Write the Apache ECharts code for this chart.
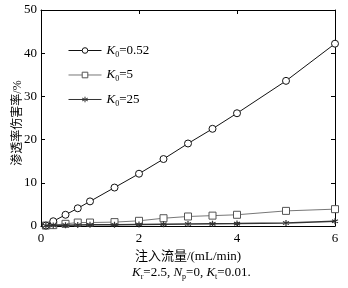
<!DOCTYPE html>
<html><head><meta charset="utf-8">
<script src="https://cdn.jsdelivr.net/npm/echarts@6/dist/echarts.min.js"></script>
<style>html,body{margin:0;padding:0;background:#fff}#c{width:348px;height:288px}</style>
</head><body><div id="c"></div>
<script>
const xValues = [0.1, 0.25, 0.5, 0.75, 1, 1.5, 2, 2.5, 3, 3.5, 4, 5, 6];
const k052 = [0.1, 1.1, 2.6, 4.1, 5.7, 8.9, 12.1, 15.5, 19.1, 22.5, 26.1, 33.6, 42.2];
const k5 = [0.1, 0.2, 0.5, 0.8, 0.8, 0.9, 1.2, 1.8, 2.2, 2.4, 2.6, 3.5, 3.9];
const k25 = [0.05, 0.1, 0.2, 0.25, 0.3, 0.3, 0.35, 0.4, 0.45, 0.5, 0.55, 0.7, 1.1];
const seriesNames = ['K0=0.52', 'K0=5', 'K0=25'];
const legendLabels = {'K0=0.52': '0.52', 'K0=5': '5', 'K0=25': '25'};
const yTicks = [0, 10, 20, 30, 40, 50];
const xTicks = [0, 2, 4, 6];

const FONT = '"Liberation Serif", "Noto Sans CJK SC", serif';
const pair = a => xValues.map((x, i) => [x, a[i]]);
const chart = echarts.init(document.getElementById('c'));
const axisCommon = {
  axisLine: {show: true, onZero: false, lineStyle: {color: '#000', width: 1}},
  axisTick: {show: true, inside: true, length: 4, lineStyle: {color: '#000'}},
  splitLine: {show: false}
};
const rich = {
  i: {fontFamily: FONT, fontStyle: 'italic', fontSize: 13, color: '#000'},
  s: {fontFamily: FONT, fontSize: 8, color: '#000', verticalAlign: 'bottom', padding: [8, 0, 0, 0]},
  n: {fontFamily: FONT, fontSize: 13, color: '#000'}
};
chart.setOption({
  animation: false,
  grid: {left: 41, right: 13, top: 10, bottom: 62, containLabel: false, outerBoundsMode: 'none'},
  legend: {
    left: 63, top: 39, orient: 'vertical', itemGap: 10, itemWidth: 33, itemHeight: 7,
    data: seriesNames,
    lineStyle: {width: 1},
    itemStyle: {borderWidth: 1},
    formatter: n => '{i|K}{s|0}{n|=' + legendLabels[n] + '}',
    textStyle: {rich: rich}
  },
  xAxis: [
    Object.assign({type: 'value', min: 0, max: 6, interval: 2, position: 'bottom',
      name: '注入流量/(mL/min)', nameLocation: 'middle', nameGap: 22,
      nameTextStyle: {fontFamily: FONT, fontSize: 13, color: '#000'},
      axisLabel: {fontFamily: FONT, fontSize: 13, color: '#000', margin: 6}}, axisCommon),
    Object.assign({type: 'value', min: 0, max: 6, interval: 2, position: 'top',
      axisLabel: {show: false}}, axisCommon)
  ],
  yAxis: [
    Object.assign({type: 'value', min: 0, max: 50, interval: 10, position: 'left',
      name: '渗透率伤害率/%', nameLocation: 'middle', nameGap: 17, nameMoveOverlap: false,
      nameTextStyle: {fontFamily: FONT, fontSize: 12, color: '#000', padding: [0, 10, 0, 0]},
      axisLabel: {fontFamily: FONT, fontSize: 13, color: '#000', margin: 4}}, axisCommon),
    Object.assign({type: 'value', min: 0, max: 50, interval: 10, position: 'right',
      axisLabel: {show: false}}, axisCommon)
  ],
  graphic: [{
    type: 'text', left: 132, top: 266,
    style: {
      text: '{i|K}{s|r}{n|=2.5, }{i|N}{s|p}{n|=0, }{i|K}{s|t}{n|=0.01.}',
      rich: rich
    }
  }],
  series: [
    {name: 'K0=0.52', type: 'line', data: pair(k052), symbol: 'circle', symbolSize: 7,
     showAllSymbol: true,
     lineStyle: {color: '#111', width: 1}, itemStyle: {color: '#fff', borderColor: '#111', borderWidth: 1}, z: 3},
    {name: 'K0=5', type: 'line', data: pair(k5), symbol: 'rect', symbolSize: 7,
     lineStyle: {color: '#777', width: 1}, itemStyle: {color: '#fff', borderColor: '#555', borderWidth: 1}, z: 2},
    {name: 'K0=25', type: 'line', data: pair(k25),
     symbol: 'path://M0,-5L0,5M-4.3,-2.5L4.3,2.5M-4.3,2.5L4.3,-2.5', symbolSize: 6,
     lineStyle: {color: '#333', width: 1.5}, itemStyle: {color: '#333', borderColor: '#333', borderWidth: 1.2}, z: 4}
  ]
});
</script></body></html>
